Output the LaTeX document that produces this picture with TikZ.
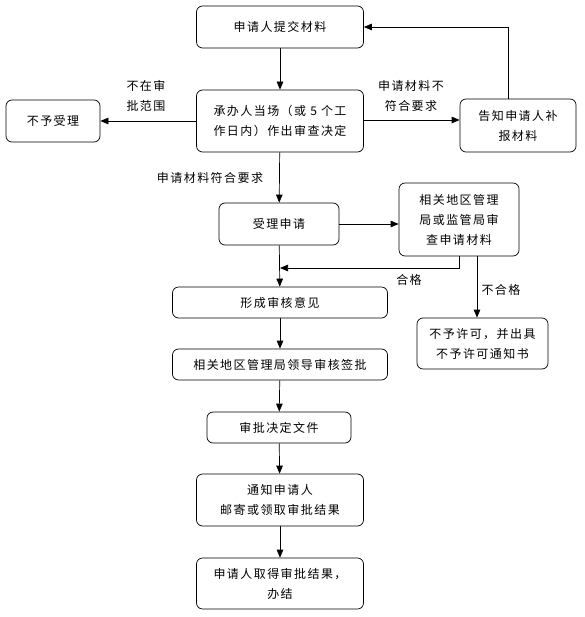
\documentclass[tikz,border=0pt]{standalone}
\usepackage{fontspec}
\newfontfamily\cjk[LetterSpace=12]{Noto Sans CJK SC}
\usetikzlibrary{arrows.meta,positioning}

\begin{document}
\begin{tikzpicture}[
    x=1pt, y={(0pt,-1pt)},
    stepbox/.style={draw, rounded corners=6pt, align=center, inner sep=2pt,
        font=\cjk\fontsize{12}{20}\selectfont, line width=0.7pt},
    note/.style={align=center, inner sep=1pt, font=\cjk\fontsize{12}{20}\selectfont},
    arrow/.style={-{Triangle[length=8pt,width=6.5pt]}, line width=0.7pt}
]
    \useasboundingbox (0,0) rectangle (584,617);

    % main column
    \node[stepbox, minimum width=167pt, minimum height=42pt] (submit) at (280,27) {申请人提交材料};
    \node[stepbox, minimum width=167pt, minimum height=62pt] (decide) at (280,121) {承办人当场（或 5 个工\\作日内）作出审查决定};
    \node[stepbox, minimum width=94pt, minimum height=42pt] (reject) at (53,121) {不予受理};
    \node[stepbox, minimum width=116pt, minimum height=53pt] (supplement) at (518,125.5) {告知申请人补\\报材料};
    \node[stepbox, minimum width=120pt, minimum height=42pt] (accept) at (279,224) {受理申请};
    \node[stepbox, minimum width=120pt, minimum height=73pt] (review) at (459,219.5) {相关地区管理\\局或监管局审\\查申请材料};
    \node[stepbox, minimum width=215pt, minimum height=31pt] (opinion) at (280,302.5) {形成审核意见};
    \node[stepbox, minimum width=131pt, minimum height=51pt] (deny) at (482.5,343.5) {不予许可，并出具\\不予许可通知书};
    \node[stepbox, minimum width=215pt, minimum height=31pt] (approve) at (280,364.5) {相关地区管理局领导审核签批};
    \node[stepbox, minimum width=144pt, minimum height=31pt] (docs) at (279,427.5) {审批决定文件};
    \node[stepbox, minimum width=167pt, minimum height=52pt] (notify) at (280,500) {通知申请人\\邮寄或领取审批结果};
    \node[stepbox, minimum width=167pt, minimum height=51pt] (finish) at (280,583.5) {申请人取得审批结果，\\办结};

    % labels
    \node[note] (outscope) at (146,96) {不在审\\批范围};
    \node[note] (incomplete) at (411,96) {申请材料不\\符合要求};
    \node[note] (complete) at (210,178) {申请材料符合要求};
    \node[note] (pass) at (409,280) {合格};
    \node[note] (fail) at (501,290) {不合格};

    \coordinate (merge) at (280,268);

    \draw[arrow] (submit) -- (decide);
    \draw[arrow] (decide.west) -- (reject.east);
    \draw[arrow] (decide.east |- 0,120) -- (supplement.west |- 0,120);
    \draw[arrow] ([xshift=-10pt]supplement.north) |- (submit.east);
    \draw[arrow] (decide) -- (accept);
    \draw[arrow] (accept.east) -- (accept.east -| review.west);
    \draw[arrow] (review.south) |- (merge);
    \draw[arrow] ([xshift=18pt]review.south) -- ([xshift=18pt]review.south |- deny.north);
    \draw[arrow] (accept) -- (opinion);
    \draw[arrow] (opinion) -- (approve);
    \draw[arrow] (approve) -- (docs);
    \draw[arrow] (docs) -- (notify);
    \draw[arrow] (notify) -- (finish);
\end{tikzpicture}
\end{document}
